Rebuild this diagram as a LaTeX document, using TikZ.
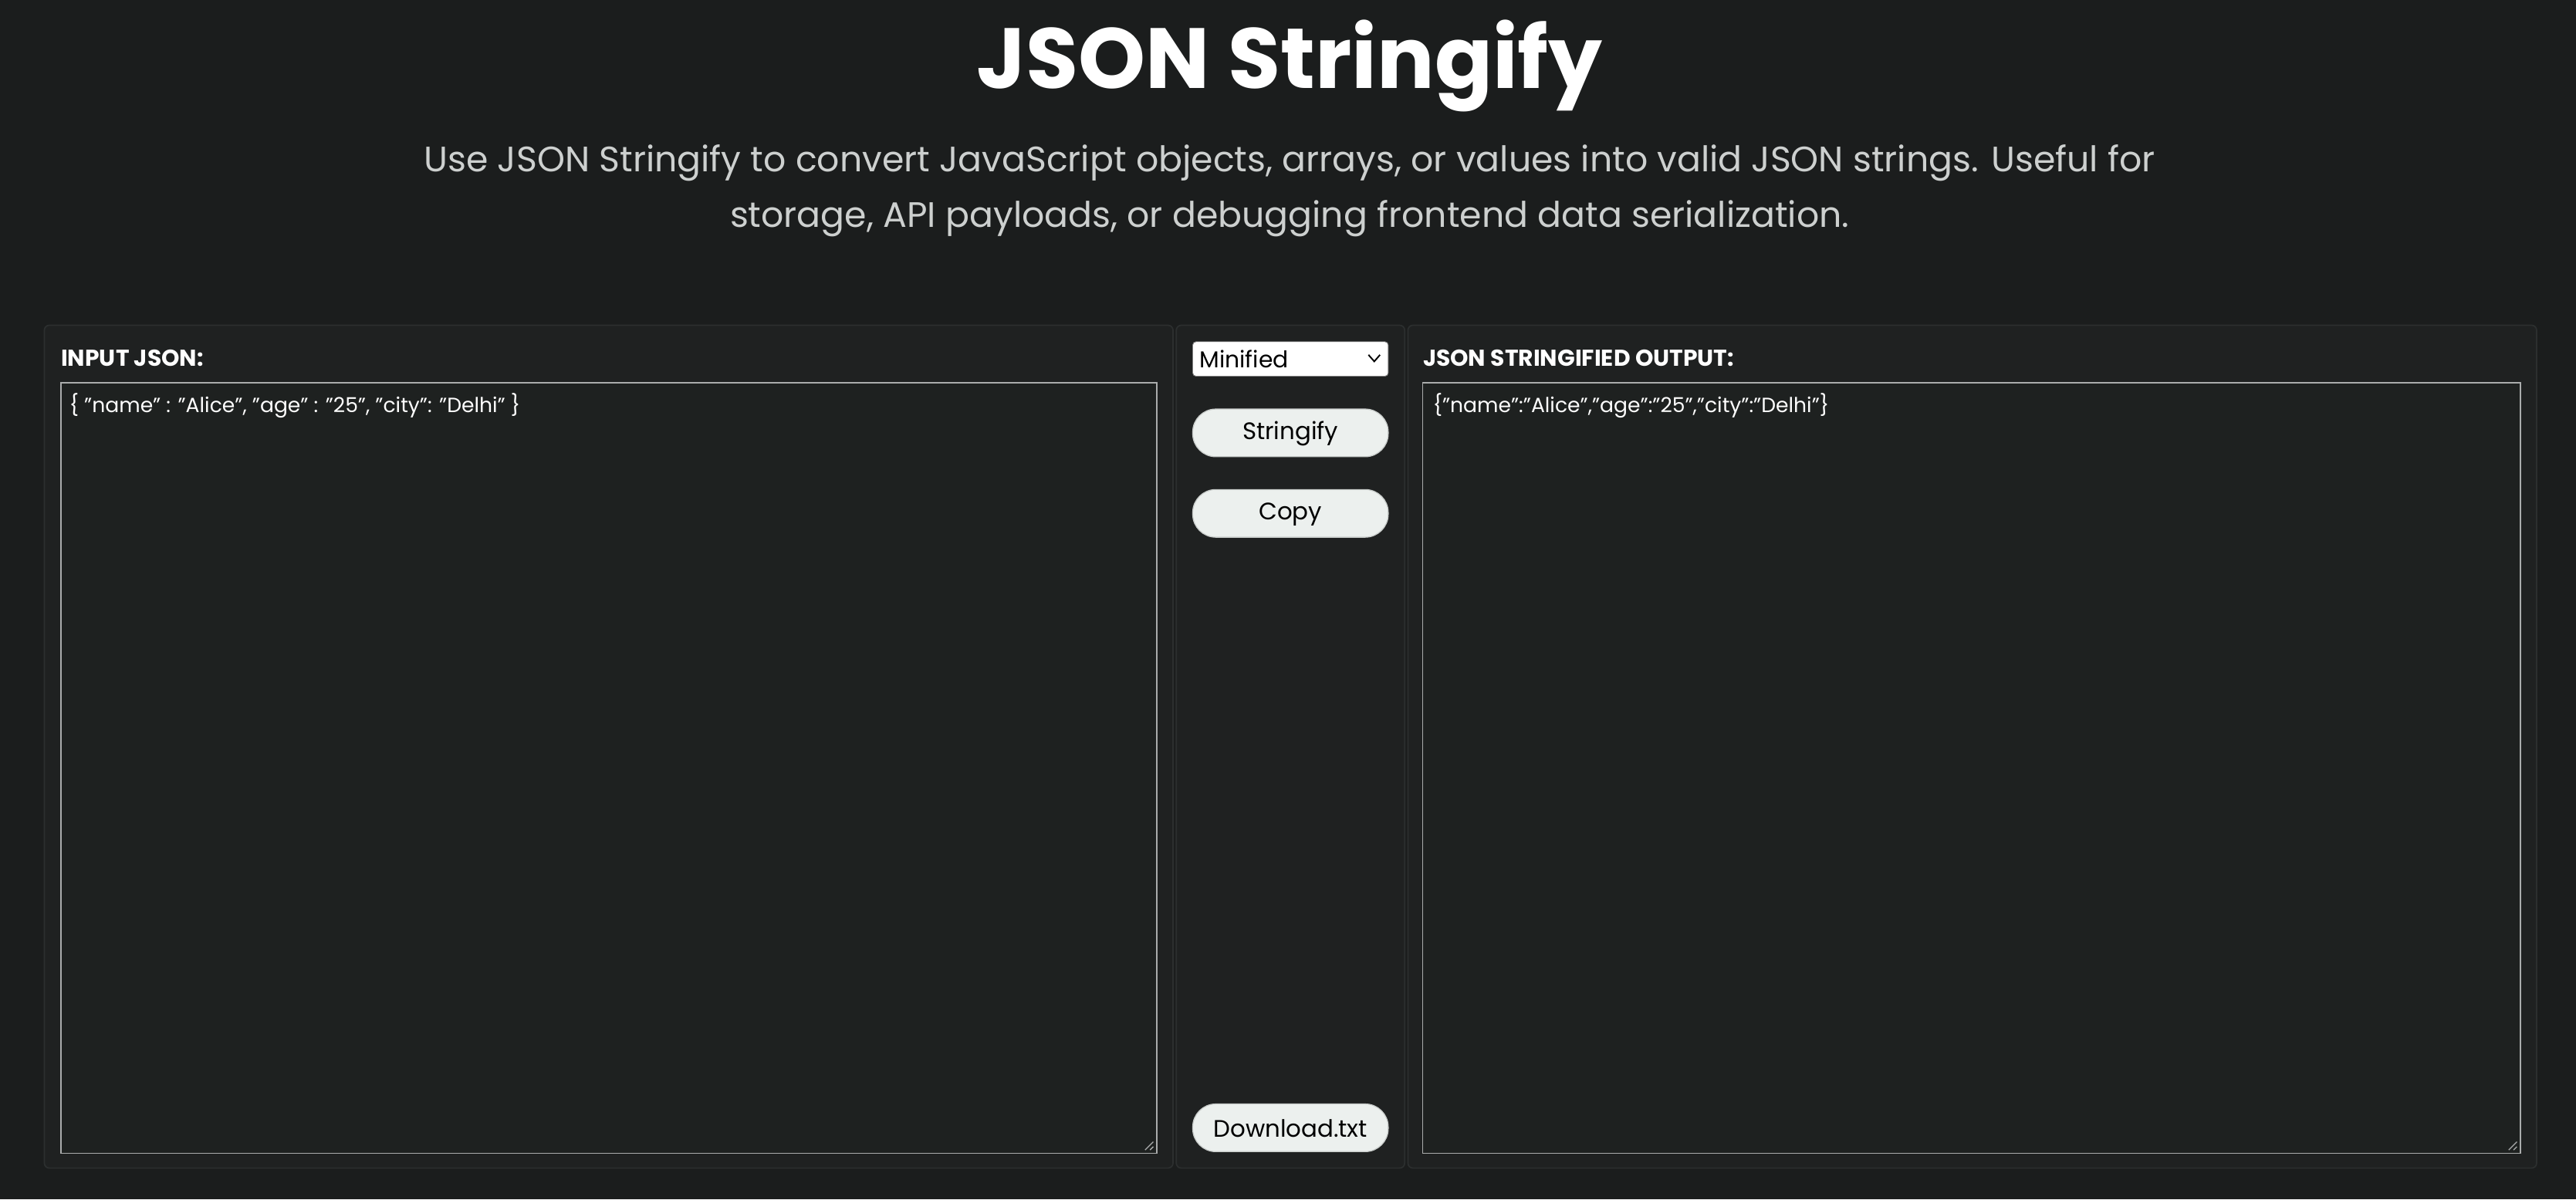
\documentclass[tikz,border=0pt]{standalone}
\usepackage{fontspec}
\setmainfont{Poppins}
\begin{document}
\begin{tikzpicture}[x=1pt,y=-1pt,
  panel/.style={draw=panelline,fill=panelbg,rounded corners=3pt,line width=0.8pt},
  area/.style={draw=arealine,fill=areabg,line width=0.8pt},
  btn/.style={fill=btnbg,draw=btnline,rounded corners=14pt,line width=0.6pt},
  lbl/.style={anchor=west,text=white,font=\fontsize{14}{16}\selectfont\bfseries,inner sep=0},
  code/.style={anchor=west,text=white,font=\fontsize{12.5}{14}\selectfont,inner sep=0},
  btntext/.style={text=black,font=\fontsize{14.5}{16}\selectfont,inner sep=0}]
\definecolor{bg}{RGB}{27,29,29}
\definecolor{panelbg}{RGB}{31,33,33}
\definecolor{panelline}{RGB}{44,47,47}
\definecolor{areabg}{RGB}{30,33,32}
\definecolor{arealine}{RGB}{170,172,172}
\definecolor{btnbg}{RGB}{236,240,238}
\definecolor{btnline}{RGB}{200,204,202}
\definecolor{subtxt}{RGB}{205,208,207}
\fill[bg] (0,0) rectangle (1568,730);
\useasboundingbox (0,0) rectangle (1568,730);
\node[text=white,font=\fontsize{52}{60}\selectfont\bfseries] (title) at (785,40) {JSON Stringify};
\node[text=subtxt,font=\fontsize{21.5}{34}\selectfont,align=center] (sub) at (785,116)
 {Use JSON Stringify to convert JavaScript objects, arrays, or values into valid JSON strings. Useful for\\ storage, API payloads, or debugging frontend data serialization.};
% left
\draw[panel] (27,198) rectangle (714,711);
\node[lbl] (inl) at (37,218) {INPUT JSON:};
\draw[area] (37,233) rectangle (704,702);
\node[code] (intext) at (42,247) {\{ "name" : "Alice", "age" : "25", "city": "Delhi" \}};
\draw[arealine,line width=0.6pt] (697,700)--(702,695) (700,700)--(702,698);
% middle
\draw[panel] (716,198) rectangle (855,711);
\draw[fill=white,draw=gray,rounded corners=2pt] (726,208) rectangle (845,229);
\node[anchor=west,text=black,font=\fontsize{14}{16}\selectfont,inner sep=0] (dd) at (730,218.5) {Minified};
\draw[black,line width=0.9pt] (833,216)--(836.5,220)--(840,216);
\draw[btn] (726,249) rectangle (845,278);
\node[btntext] (b1) at (785.5,264) {Stringify};
\draw[btn] (726,298) rectangle (845,327);
\node[btntext] (b2) at (785.5,313) {Copy};
\draw[btn] (726,672) rectangle (845,701);
\node[btntext] (b3) at (785.5,687) {Download.txt};
% right
\draw[panel] (857,198) rectangle (1544,711);
\node[lbl] (outl) at (866,218) {JSON STRINGIFIED OUTPUT:};
\draw[area] (866,233) rectangle (1534,702);
\node[code] (outtext) at (872,247) {\{"name":"Alice","age":"25","city":"Delhi"\}};
\draw[arealine,line width=0.6pt] (1527,700)--(1532,695) (1530,700)--(1532,698);
\end{tikzpicture}
\end{document}
